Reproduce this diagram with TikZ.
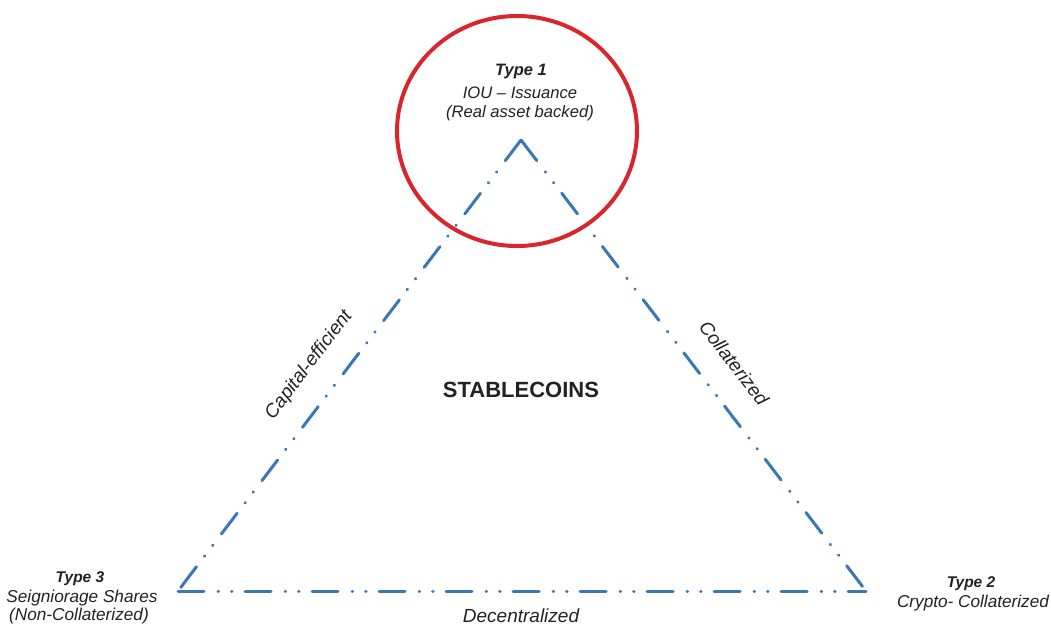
\documentclass[tikz,border=0pt]{standalone}
\usepackage{fontspec}
\setmainfont{Liberation Sans}
\usetikzlibrary{shapes.geometric}
\definecolor{edgeblue}{HTML}{3A78B5}
\definecolor{ringred}{HTML}{D8262C}
\definecolor{txt}{HTML}{222222}
\begin{document}
\begin{tikzpicture}[x=1pt,y=-1pt,
  edge/.style={draw=edgeblue,line width=3pt,line cap=round,
    dash pattern=on 26pt off 14pt on 0.5pt off 13pt on 0.5pt off 13pt},
  lbl/.style={text=txt,font=\fontsize{16.6}{19}\selectfont\itshape,inner sep=0pt,align=center},
  cor/.style={text=txt,font=\fontsize{17.2}{19}\selectfont\itshape,inner sep=0pt,align=center},
  side/.style={text=txt,font=\fontsize{19}{22}\selectfont\itshape,inner sep=0pt},
  ttl/.style={text=txt,font=\fontsize{15.5}{18}\selectfont\bfseries\itshape,inner sep=0pt}]
\useasboundingbox (0,0) rectangle (1051,625);
\fill[white] (0,0) rectangle (1051,625);
\coordinate (top) at (521,140);
\coordinate (bl) at (178,591);
\coordinate (br) at (866,591);
\draw[edge] (top) -- (bl);
\draw[edge] (top) -- (br);
\draw[edge] (bl) -- (br);
\node[draw=ringred,line width=4pt,ellipse,minimum width=240pt,minimum height=230pt,inner sep=0pt] (ring) at (517,131) {};
\node[ttl,font=\fontsize{16.5}{18}\selectfont\bfseries\itshape] (t1) at (521,72) {Type 1};
\node[lbl] (t1a) at (520,93) {IOU – Issuance};
\node[lbl] (t1b) at (520,113) {(Real asset backed)};
\node[text=txt,font=\fontsize{22}{26}\selectfont\bfseries,inner sep=0pt] (main) at (521,390) {STABLECOINS};
\node[side,rotate=52.8] (cap) at (309,365) {Capital-efficient};
\node[side,rotate=-52.4] (col) at (734,363) {Collaterized};
\node[side] (dec) at (521,616) {Decentralized};
\node[ttl] (t3) at (80,579) {Type 3};
\node[cor] (t3a) at (82,598) {Seigniorage Shares};
\node[cor] (t3b) at (79,616) {(Non-Collaterized)};
\node[ttl] (t2) at (971,584) {Type 2};
\node[cor] (t2a) at (973,603) {Crypto- Collaterized};
\end{tikzpicture}
\end{document}
